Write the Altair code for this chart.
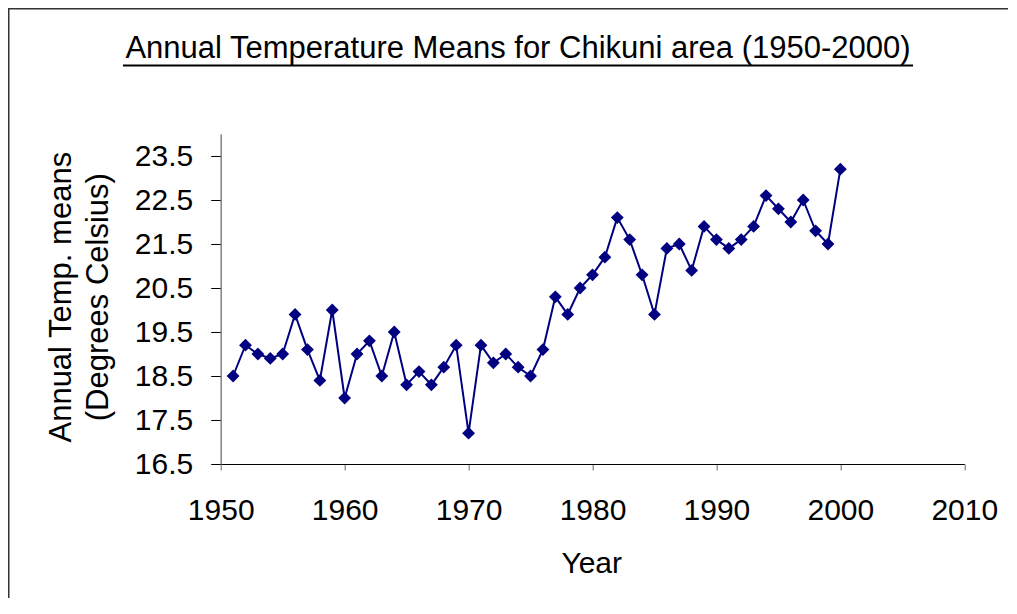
import altair as alt
import pandas as pd

# ---- data ----
years = [1951, 1952, 1953, 1954, 1955, 1956, 1957, 1958, 1959, 1960,
         1961, 1962, 1963, 1964, 1965, 1966, 1967, 1968, 1969, 1970,
         1971, 1972, 1973, 1974, 1975, 1976, 1977, 1978, 1979, 1980,
         1981, 1982, 1983, 1984, 1985, 1986, 1987, 1988, 1989, 1990,
         1991, 1992, 1993, 1994, 1995, 1996, 1997, 1998, 1999, 2000]
temps = [18.5, 19.2, 19.0, 18.9, 19.0, 19.9, 19.1, 18.4, 20.0, 18.0,
         19.0, 19.3, 18.5, 19.5, 18.3, 18.6, 18.3, 18.7, 19.2, 17.2,
         19.2, 18.8, 19.0, 18.7, 18.5, 19.1, 20.3, 19.9, 20.5, 20.8,
         21.2, 22.1, 21.6, 20.8, 19.9, 21.4, 21.5, 20.9, 21.9, 21.6,
         21.4, 21.6, 21.9, 22.6, 22.3, 22.0, 22.5, 21.8, 21.5, 23.2]
x_ticks = [1950, 1960, 1970, 1980, 1990, 2000, 2010]
y_ticks = [16.5, 17.5, 18.5, 19.5, 20.5, 21.5, 22.5, 23.5]
title_text = "Annual Temperature Means for Chikuni area (1950-2000)"
y_title = ["Annual Temp. means", "(Degrees Celsius)"]
x_title = "Year"

df = pd.DataFrame({"Year": years, "Temp": temps})
one = pd.DataFrame({"k": [0]})

FONT = "Liberation Sans"
NAVY = "#000080"

x_enc = alt.X("Year:Q",
              scale=alt.Scale(domain=[1950, 2010], nice=False, zero=False),
              axis=alt.Axis(values=x_ticks, format="d", title=x_title,
                            titleFont=FONT, titleFontSize=30, titleFontWeight="normal",
                            titleColor="black", titleX=370.5, titleY=108.4,
                            titleAlign="center", titleBaseline="alphabetic",
                            labelFont=FONT, labelFontSize=30, labelColor="black",
                            labelPadding=25.5, labelFlush=False, labelOverlap=False,
                            tickSize=6, tickColor="#808080", tickWidth=1.2,
                            domainColor="black", domainWidth=1.2, grid=False))
y_enc = alt.Y("Temp:Q",
              scale=alt.Scale(domain=[16.5, 24.0], nice=False, zero=False),
              axis=alt.Axis(values=y_ticks, format=".1f", title=y_title,
                            titleFont=FONT, titleFontSize=31, titleFontWeight="normal",
                            titleColor="black", titleAngle=270, titleAlign="center",
                            titleBaseline="alphabetic", titleX=-150.7, titleY=162.7,
                            titleLineHeight=37,
                            labelFont=FONT, labelFontSize=30, labelColor="black",
                            labelPadding=18, labelOverlap=False,
                            tickSize=10, tickColor="black", tickWidth=1,
                            domainColor="#808080", domainWidth=1.5, grid=False))

line = alt.Chart(df).mark_line(color=NAVY, strokeWidth=2).encode(x=x_enc, y=y_enc)
pts = alt.Chart(df).mark_point(shape="diamond", filled=True, size=165,
                               color=NAVY, opacity=1).encode(x="Year:Q", y="Temp:Q")

# chart title (drawn as text) with its underline
title = alt.Chart(one).mark_text(text=title_text, font=FONT, fontSize=31,
                                  align="center", baseline="alphabetic",
                                  color="black").encode(
    x=alt.value(297.3), y=alt.value(-76))
underline = alt.Chart(one).mark_rule(color="black", strokeWidth=2).encode(
    x=alt.value(-97.7), x2=alt.value(692.3), y=alt.value(-68.5))

# outer frame (left and top edges)
frame_top = alt.Chart(one).mark_rule(color="#333333", strokeWidth=1.5).encode(
    x=alt.value(-212.7), x2=alt.value(787.3), y=alt.value(-125.25))
frame_left = alt.Chart(one).mark_rule(color="#333333", strokeWidth=1.5).encode(
    x=alt.value(-211.95), y=alt.value(-126), y2=alt.value(464))

chart = alt.layer(frame_top, frame_left, title, underline, line, pts).properties(
    width=743.6, height=330,
    autosize=alt.AutoSizeParams(type="none"),
    padding={"left": 212.7, "top": 126, "right": 43.7, "bottom": 134},
    background="white",
).configure_view(stroke=None)

chart.save("out.html", embed_options={"renderer": "svg", "actions": False})
